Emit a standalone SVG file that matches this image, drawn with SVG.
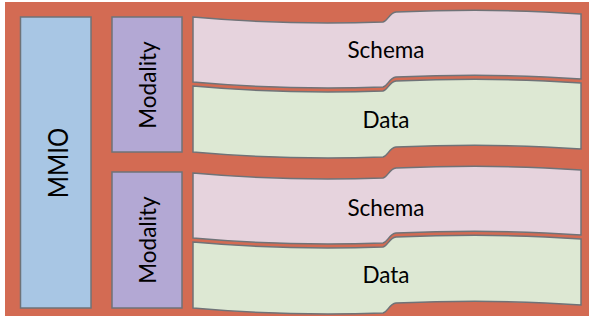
<svg xmlns="http://www.w3.org/2000/svg" width="589" height="320" viewBox="0 0 589 320">
<style>
.lbl{font-family:Lato,"Liberation Sans",sans-serif;font-size:22.5px;fill:#000;text-anchor:middle;dominant-baseline:central}
.big{font-size:24px}
.box{stroke:#6f7378;stroke-width:1.5}
.mmio{fill:#a8c6e4}
.mod{fill:#b3a8d4}
.schema{fill:#e6d3dd}
.data{fill:#dde8d3}
</style>
<rect x="0" y="0" width="589" height="320" fill="#ffffff"/>
<rect x="5" y="2" width="584" height="314" fill="#d36b53"/>
<g id="mmio">
<rect class="box mmio" x="20.5" y="17" width="70.5" height="291"/>
<text class="lbl big" transform="translate(57,163) rotate(-90) scale(1,1.12)">MMIO</text>
</g>
<g id="modality1">
<rect class="box mod" x="112" y="17" width="70" height="135"/>
<text class="lbl" transform="translate(147.5,85) rotate(-90)">Modality</text>
</g>
<g id="modality2">
<rect class="box mod" x="112" y="172" width="70" height="136"/>
<text class="lbl" transform="translate(147.5,240) rotate(-90)">Modality</text>
</g>
<g id="schema1">
<path class="box schema" d="M193,17 C260,23 330,24 383,22 C388,21 389,13 396,12 C470,9 540,11 581,14 L581,79 C540,76 470,74 396,77 C389,78 388,86 383,87 C330,89 260,88 193,82 Z"/>
<text class="lbl" x="386" y="49">Schema</text>
</g>
<g id="data1">
<path class="box data" d="M193,86 C260,92 330,93 383,91 C388,90 389,82 396,81 C470,78 540,80 581,83 L581,149 C540,146 470,144 396,147 C389,148 388,156 383,157 C330,159 260,158 193,152 Z"/>
<text class="lbl" x="386" y="119">Data</text>
</g>
<g id="schema2">
<path class="box schema" d="M193,173 C260,179 330,180 383,178 C388,177 389,169 396,168 C470,165 540,167 581,170 L581,235 C540,232 470,230 396,233 C389,234 388,242 383,243 C330,245 260,244 193,238 Z"/>
<text class="lbl" x="386" y="207">Schema</text>
</g>
<g id="data2">
<path class="box data" d="M193,242 C260,248 330,249 383,247 C388,246 389,238 396,237 C470,234 540,236 581,239 L581,305 C540,302 470,300 396,303 C389,304 388,312 383,313 C330,315 260,314 193,308 Z"/>
<text class="lbl" x="386" y="274">Data</text>
</g>
<g id="connectors"></g>
</svg>
